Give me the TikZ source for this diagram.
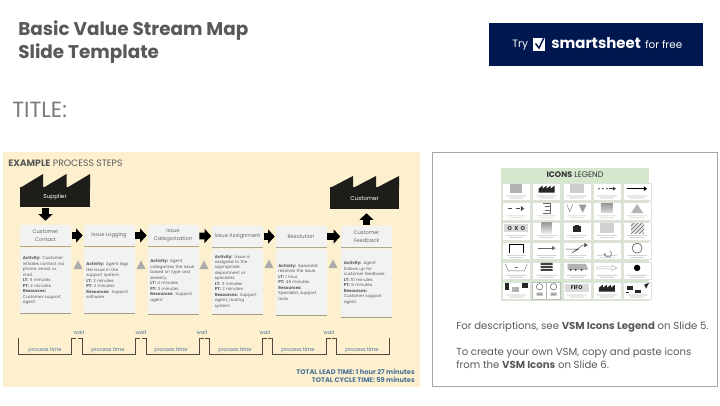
\documentclass[tikz,border=0pt]{standalone}
\usepackage{fontspec}
\setmainfont{Poppins}
\usetikzlibrary{arrows.meta,shadows,patterns}
\definecolor{panel}{HTML}{FDF0CF}
\definecolor{txt}{HTML}{595959}
\definecolor{stepgray}{HTML}{F2F2F2}
\definecolor{blueT}{HTML}{4A7096}
\definecolor{navy}{HTML}{00174F}
\definecolor{legendbg}{HTML}{D5E8CE}
\definecolor{tl}{HTML}{4F4A3C}
\newcommand{\fsz}[2]{\fontsize{#1pt}{#2pt}\selectfont}
\newcommand{\legcard}[3]{\begin{scope}[shift={({502.3+30.2*#1},{182.7+19.8*#2})}]
\fill[white,draw=black!12,line width=.2pt] (0,0) rectangle (28,17.5);
\fill[black!25] (4,13) rectangle (24,13.6) (7,15) rectangle (21,15.6);
#3
\end{scope}}
\tikzset{
  x=0.75pt,y=-0.75pt,
  stephead/.style={fill=stepgray,text=black!60,align=center,inner sep=0pt,font=\fsz{3.9}{6},
    minimum width=38.25pt,minimum height=15.75pt,
    drop shadow={shadow xshift=0pt,shadow yshift=-.75pt,fill=black,opacity=.3}},
  stepbody/.style={fill=stepgray,text=txt,align=left,inner xsep=2.125pt,inner ysep=0pt,text width=34pt,font=\fsz{3.1}{4.1},
    drop shadow={shadow xshift=0pt,shadow yshift=-.75pt,fill=black,opacity=.35}},
  factory/.style={fill=black!88!panel,inner sep=0pt,text=white,font=\fsz{4.3}{6}},
  blockarrow/.style={line width=5pt,-{Triangle[length=5pt,width=10.5pt]},black,shorten <=.4pt,shorten >=.4pt},
  tri/.style={fill=black!33,draw=none},
  pline/.style={tl,line width=.75pt},
  tlabel/.style={blueT,font=\fsz{3.85}{5},inner sep=0pt},
  gi/.style={fill=black!30},
  bi/.style={fill=black!85},
}
\begin{document}
\begin{tikzpicture}
\useasboundingbox (0,0) rectangle (720,405);
\fill[white] (0,0) rectangle (720,405);

% header
\node[anchor=west,text=txt,align=left,inner sep=0pt,font=\fsz{13.8}{17.3}\bfseries] (maintitle) at (18,42.5) {Basic Value Stream Map\\Slide Template};
\node[anchor=west,text=black!52,inner sep=0pt,font=\fsz{16.5}{18}] (titlelabel) at (12,110) {TITLE:};

% button
\node[fill=navy,minimum width=160.5pt,minimum height=32.25pt,inner sep=0pt] (button) at (596,44.5) {};
\node[anchor=west,white,inner sep=0pt,font=\fsz{8}{9}] (try) at (512,45) {Try};
\fill[white] (533,38) rectangle (545,51);
\draw[navy,line width=1.1pt] (535.5,43.5) -- (539,48) -- (544.5,36.5);
\node[anchor=west,white,inner sep=0pt,font=\fsz{11.2}{14}\bfseries] (smart) at (551,43) {smartsheet};
\node[anchor=west,white,inner sep=0pt,font=\fsz{7.8}{9}] (free) at (645,45) {for free};

% yellow panel
\fill[panel] (3,152) rectangle (420,387);
\node[anchor=west,text=txt,inner sep=0pt,font=\fsz{6.95}{8}] (extitle) at (8,163) {\textbf{EXAMPLE} PROCESS STEPS};

% factories
\node[factory,minimum width=52.5pt,minimum height=15.4pt] (supplier) at (55,197) {\raisebox{1.2pt}{Supplier}};
\fill[black!88!panel] (20,188) -- (43,174) -- (43,188) -- (66.5,174) -- (66.5,188) -- (90,174) -- (90,188) -- cycle;
\node[factory,minimum width=51.75pt,minimum height=16.5pt] (customer) at (364.5,198) {Customer};
\fill[black!88!panel] (330,188) -- (353,176) -- (353,188) -- (376,176) -- (376,188) -- (399,176) -- (399,188) -- cycle;

% step heads
\node[stephead] (c1) at (45.5,235.5) {Customer\\Contact};
\node[stephead] (c2) at (109,235.5) {Issue Logging};
\node[stephead] (c3) at (173,235.5) {Issue\\Categorization};
\node[stephead] (c4) at (237.5,236.5) {Issue Assignment};
\node[stephead] (c5) at (301,236.5) {Resolution};
\node[stephead] (c6) at (366.5,236.5) {Customer\\Feedback};

% step bodies
\node[stepbody,minimum height=48.75pt] (b1) at (45.5,280.5) {\textbf{Activity:} Customer\\initiates contact via\\phone, email, or\\chat.\\\textbf{LT:} 5 minutes\\\textbf{PT:} 2 minutes\\\textbf{Resources:}\\Customer support\\agent};
\node[stepbody,minimum height=48.75pt] (b2) at (109,280.5) {\textbf{Activity:} Agent logs\\the issue in the\\support system.\\\textbf{LT:} 3 minutes\\\textbf{PT:} 2 minutes\\\textbf{Resources:} Support\\software};
\node[stepbody,minimum height=49.5pt] (b3) at (173,281) {\textbf{Activity:} Agent\\categorizes the issue\\based on type and\\severity.\\\textbf{LT:} 4 minutes\\\textbf{PT:} 3 minutes\\\textbf{Resources:} Support\\agent};
\node[stepbody,minimum height=48.75pt] (b4) at (237.5,281.5) {\textbf{Activity:} Issue is\\assigned to the\\appropriate\\department or\\specialist.\\\textbf{LT:} 3 minutes\\\textbf{PT:} 2 minutes\\\textbf{Resources:} Support\\agent, routing\\system};
\node[stepbody,minimum height=49.5pt] (b5) at (301,282) {\textbf{Activity:} Specialist\\resolves the issue.\\\textbf{LT:} 1 hour\\\textbf{PT:} 45 minutes\\\textbf{Resources:}\\Specialist, support\\tools};
\node[stepbody,minimum height=51pt] (b6) at (366.5,283) {\textbf{Activity:} Agent\\follows up for\\customer feedback.\\\textbf{LT:} 10 minutes\\\textbf{PT:} 5 minutes\\\textbf{Resources:}\\Customer support\\agent};

% block arrows
\draw[blockarrow,shorten >=3pt] (c1.north |- supplier.south) -- (c1.north);
\draw[blockarrow] (c1) -- (c2);
\draw[blockarrow] (c2) -- (c3);
\draw[blockarrow] (c3) -- (c4);
\draw[blockarrow] (c4) -- (c5);
\draw[blockarrow] (c5) -- (c6);
\draw[blockarrow,shorten >=3pt] (c6.north) -- (c6.north |- customer.south);

% triangles
\fill[tri] (73.5,269) -- (78,260.5) -- (82.5,269) -- cycle;
\fill[tri] (136.5,269) -- (141,260.5) -- (145.5,269) -- cycle;
\fill[tri] (199.5,269) -- (204,260.5) -- (208.5,269) -- cycle;
\fill[tri] (264.5,268) -- (269,259.5) -- (273.5,268) -- cycle;
\fill[tri] (328.5,268) -- (333,259.5) -- (337.5,268) -- cycle;

% timeline
\draw[pline] (18,338) -- (18,354) -- (71,354) -- (71,338) -- (76,338);
\draw[pline] (77.5,338) -- (82,338) -- (82,354) -- (135,354) -- (135,338) -- (140,338);
\draw[pline] (141.5,338) -- (146,338) -- (146,354) -- (199,354) -- (199,338) -- (204,338);
\draw[pline] (205,338) -- (209,338) -- (209,354) -- (262,354) -- (262,338) -- (267,338);
\draw[pline] (268,338) -- (272,338) -- (272,354) -- (326,354) -- (326,338) -- (331,338);
\draw[pline] (332,338) -- (336,338) -- (336,354) -- (389,354) -- (389,338);
\foreach \n/\x in {1/79,2/141,3/202,4/265,5/329} \node[tlabel] (wait\n) at (\x,332.5) {wait};
\foreach \n/\x in {1/45,2/108,3/171,4/235,5/298,6/362} \node[tlabel] (pt\n) at (\x,350) {process time};
\node[anchor=east,blueT,inner sep=0pt,font=\fsz{5}{6}\bfseries] (lead) at (415,371.5) {TOTAL LEAD TIME: 1 hour 27 minutes};
\node[anchor=east,blueT,inner sep=0pt,font=\fsz{5}{6}\bfseries] (cycle) at (415,380) {TOTAL CYCLE TIME: 59 minutes};

% right box
\draw[black!35,line width=.75pt,fill=white] (432,152) rectangle (717,386);
\fill[legendbg] (501,168) rectangle (649,301);
\node[black!80,inner sep=0pt,font=\fsz{6}{7}] (legtitle) at (575,175) {\textbf{ICONS} LEGEND};

\legcard{0}{0}{\fill[gi] (8,1.5) rectangle (20,10);}
\legcard{1}{0}{\fill[bi] (6,10) -- (6,6) -- (10,3) -- (10,6) -- (14,3) -- (14,6) -- (18,3) -- (18,6) -- (22,3) -- (22,10) -- cycle;}
\legcard{2}{0}{\fill[black!20] (7,1.5) rectangle (21,10);}
\legcard{3}{0}{\fill[bi] (6,6) circle (.8) (10,6) circle (.8) (14,6) circle (.8); \draw[black!80,line width=.4pt,-{Triangle[length=2pt,width=2.5pt]}] (16,6) -- (23,6);}
\legcard{4}{0}{\draw[black,line width=.7pt,-{Triangle[length=2.5pt,width=3.5pt]}] (4,6) -- (24,6);}

\legcard{0}{1}{\draw[black!70,line width=.3pt,dashed,-{Triangle[length=2.5pt,width=3.5pt]}] (6,6) -- (22,6);}
\legcard{1}{1}{\draw[black!60,line width=.3pt] (10,1) -- (18,1) -- (18,11) -- (10,11) (12,4) -- (18,4) (12,8) -- (18,8);}
\legcard{2}{1}{\draw[black!50,line width=.35pt] (4,2) -- (7,9) -- (10,2); \fill[black!40] (16,2) -- (24,2) -- (20,10) -- cycle;}
\legcard{3}{1}{\shade[top color=black!40,bottom color=black!15] (8,1) rectangle (20,10);}
\legcard{4}{1}{\fill[black!30] (14,1.5) -- (20,10.5) -- (8,10.5) -- cycle;}

\legcard{0}{2}{\fill[black!15] (2,2) rectangle (26,10); \node[black!80,inner sep=0pt,font=\fsz{4.2}{5}\bfseries] (oxo) at (14,6) {O\ \ X\ \ O};}
\legcard{1}{2}{\shade[top color=black!40,bottom color=black!8] (9,0) rectangle (19,11);}
\legcard{2}{2}{\fill[bi] (10,4) rectangle (18,10); \fill[bi] (12,3) rectangle (16,4);}
\legcard{3}{2}{\fill[black!18] (7,1) rectangle (21,11);}
\legcard{4}{2}{\fill[black!10] (8,1) rectangle (21,11); \fill[pattern=north east lines,pattern color=black!60] (8,1) rectangle (21,11);}

\legcard{0}{3}{\draw[black,line width=.6pt] (7,11) -- (7,2) -- (21,2) -- (21,11);}
\legcard{1}{3}{\draw[black!60,line width=.3pt,-{Triangle[length=2.5pt,width=3pt]}] (5,6) -- (23,6);}
\legcard{2}{3}{\draw[black!70,line width=.3pt,-{Triangle[length=2.5pt,width=3pt]}] (3,7) -- (16,7) -- (9,11) -- (20,3) -- (25,3);}
\legcard{3}{3}{\draw[black!60,line width=.4pt,-{Stealth[length=2pt]}] (17,9) arc (-60:200:3.2);}
\legcard{4}{3}{\draw[black!60,line width=.5pt] (14,6) circle (5);}

\legcard{0}{4}{\draw[black!60,line width=.3pt] (3,2) -- (6,9) -- (22,9) -- (25,2); \fill[black!60] (13,5) rectangle (16,6);}
\legcard{1}{4}{\fill[black!75] (8,1) rectangle (20,3) (8,4) rectangle (20,6) (8,7) rectangle (20,9);}
\legcard{2}{4}{\fill[black!30] (5,2) -- (23,2) -- (25,6) -- (25,8) -- (5,8) -- cycle; \fill[bi] (8,8) circle (1) (13,8) circle (1) (19,8) circle (1);}
\legcard{3}{4}{\draw[black!30,line width=.4pt] (4,5) -- (19,5) -- (19,3.5) -- (24,6) -- (19,8.5) -- (19,7) -- (4,7) -- cycle;}
\legcard{4}{4}{\fill[black] (14,6) circle (3.2);}

\legcard{0}{5}{\fill[bi] (3,1) rectangle (7,8); \fill[black!30] (10,5) rectangle (17,10); \fill[bi] (20,1) rectangle (26,6);}
\legcard{1}{5}{\fill[white,draw=black!25,line width=.2pt] (0,0) rectangle (28,17.5); \draw[black!70,line width=.3pt] (7,5) circle (3.2) (21,5) circle (3.2); \draw[black!30,line width=.2pt] (14,0) -- (14,17.5); \fill[black!35] (4,11) rectangle (10,14) (18,11) rectangle (24,14);}
\legcard{2}{5}{\fill[black!15] (2,2) rectangle (26,10); \node[black!85,inner sep=0pt,font=\fsz{4}{5}\bfseries] (fifo) at (14,6) {FIFO};}
\legcard{3}{5}{\fill[bi] (6,10) -- (6,6) -- (10,3) -- (10,6) -- (14,3) -- (14,6) -- (18,3) -- (18,6) -- (22,3) -- (22,10) -- cycle;}
\legcard{4}{5}{\fill[bi] (4,4) rectangle (10,8); \fill[bi] (3,10) rectangle (6,11.5); \fill[bi] (12,8) rectangle (18,11); \fill[bi] (21,3) -- (26,1) -- (23,7) -- cycle;}

% notes
\node[anchor=west,text=txt,inner sep=0pt,font=\fsz{7.6}{9.4}] (note1) at (456,327) {For descriptions, see \textbf{VSM Icons Legend} on Slide 5.};
\node[anchor=west,text=txt,align=left,inner sep=0pt,font=\fsz{7.6}{9.4}] (note2) at (456,358) {To create your own VSM, copy and paste icons\\from the \textbf{VSM Icons} on Slide 6.};
\end{tikzpicture}
\end{document}
